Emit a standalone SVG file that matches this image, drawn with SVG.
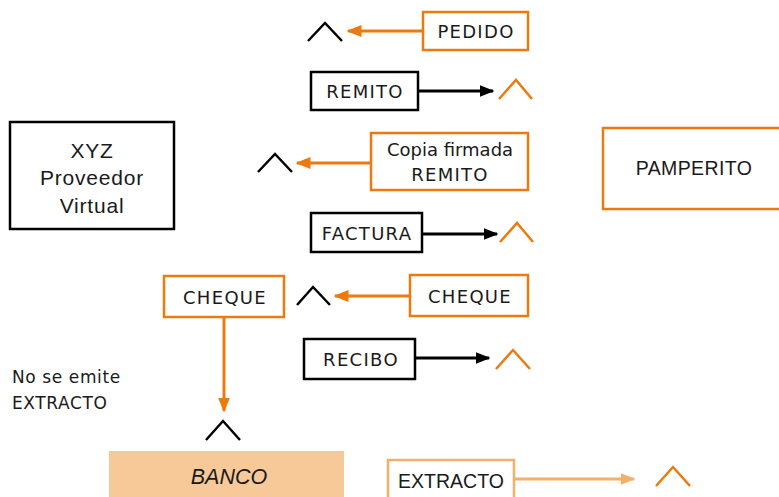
<svg xmlns="http://www.w3.org/2000/svg" width="779" height="497" viewBox="0 0 779 497">
<defs>
<style>
.ob{fill:#fff;stroke:#ec7a0c;stroke-width:2.5}
.bb{fill:#fff;stroke:#000;stroke-width:2.5}
.t{font-family:"DejaVu Sans",sans-serif;font-size:18px;fill:#1a1a1a;text-anchor:middle;letter-spacing:1.3px}
.a{font-family:"Liberation Sans",Arial,sans-serif;fill:#1a1a1a;text-anchor:middle}
.ol{stroke:#ec7a0c;stroke-width:3;fill:none}
.bl{stroke:#000;stroke-width:3;fill:none}
.lo{stroke:#f4b06a;stroke-width:3;fill:none}
.cb{stroke:#000;stroke-width:2.5;fill:none}
.co{stroke:#ec7a0c;stroke-width:2.5;fill:none}
</style>
<marker id="mo" viewBox="0 0 10 10" refX="9" refY="5" markerWidth="5" markerHeight="5" orient="auto" markerUnits="strokeWidth"><path d="M0,1 L10,5 L0,9 z" fill="#ec7a0c"/></marker>
<marker id="mb" viewBox="0 0 10 10" refX="9" refY="5" markerWidth="5" markerHeight="5" orient="auto" markerUnits="strokeWidth"><path d="M0,1 L10,5 L0,9 z" fill="#000"/></marker>
<marker id="ml" viewBox="0 0 10 10" refX="9" refY="5" markerWidth="5" markerHeight="5" orient="auto" markerUnits="strokeWidth"><path d="M0,1 L10,5 L0,9 z" fill="#f4b06a"/></marker>
</defs>
<rect width="779" height="497" fill="#fff"/>

<g id="connectors">
<line class="ol" x1="423" y1="31" x2="348" y2="31" marker-end="url(#mo)"/>
<line class="bl" x1="418" y1="91" x2="493" y2="91" marker-end="url(#mb)"/>
<line class="ol" x1="371" y1="163" x2="297" y2="163" marker-end="url(#mo)"/>
<line class="bl" x1="422" y1="234" x2="497" y2="234" marker-end="url(#mb)"/>
<line class="ol" x1="410" y1="296" x2="335" y2="296" marker-end="url(#mo)"/>
<line class="ol" x1="224" y1="317" x2="224" y2="411" marker-end="url(#mo)"/>
<line class="bl" x1="415" y1="358" x2="489" y2="358" marker-end="url(#mb)"/>
<line class="lo" x1="514" y1="479" x2="634" y2="479" marker-end="url(#ml)"/>
</g>

<g id="carets">
<polyline class="cb" points="308,41 325,23 342,41"/>
<polyline class="co" points="499,99 516,80 532,99"/>
<polyline class="cb" points="258,172 275,154 292,172"/>
<polyline class="co" points="500,242 517,223 533,242"/>
<polyline class="cb" points="297,305 313,287 330,305"/>
<polyline class="co" points="496,369 513,350 530,369"/>
<polyline class="cb" points="206,440 223,421 240,440"/>
<polyline class="co" points="656,486 673,467 690,486"/>
</g>

<g id="xyz">
<rect class="bb" x="10" y="122" width="164" height="107"/>
<text class="a" font-size="21" letter-spacing="0.8"><tspan x="92" y="158">XYZ</tspan><tspan x="92" y="185">Proveedor</tspan><tspan x="92" y="213">Virtual</tspan></text>
</g>

<g id="pedido">
<rect class="ob" x="423" y="12" width="105" height="38"/>
<text class="t" x="476" y="38">PEDIDO</text>
</g>

<g id="remito">
<rect class="bb" x="311" y="72" width="107" height="38"/>
<text class="t" x="365" y="98">REMITO</text>
</g>

<g id="copia">
<rect class="ob" x="371" y="133" width="157" height="57"/>
<text class="t"><tspan x="450" y="156" style="letter-spacing:0">Copia firmada</tspan><tspan x="450" y="181">REMITO</tspan></text>
</g>

<g id="pamperito">
<rect class="ob" x="603" y="128" width="180" height="81"/>
<text class="a" font-size="19.5" letter-spacing="0.4" x="694" y="175">PAMPERITO</text>
</g>

<g id="factura">
<rect class="bb" x="311" y="213" width="111" height="39"/>
<text class="t" x="367" y="240">FACTURA</text>
</g>

<g id="cheque-left">
<rect class="ob" x="164" y="276" width="120" height="41"/>
<text class="t" x="225" y="304">CHEQUE</text>
</g>

<g id="cheque-right">
<rect class="ob" x="410" y="275" width="118" height="41"/>
<text class="t" x="470" y="303">CHEQUE</text>
</g>

<g id="recibo">
<rect class="bb" x="304" y="339" width="111" height="40"/>
<text class="t" x="361" y="366">RECIBO</text>
</g>

<g id="nota">
<text font-family="DejaVu Sans, sans-serif" font-size="17" letter-spacing="0.6" fill="#1a1a1a"><tspan x="12" y="383">No se emite</tspan><tspan x="12" y="409">EXTRACTO</tspan></text>
</g>

<g id="banco">
<rect x="109" y="451" width="235" height="50" fill="#f7c999"/>
<text class="a" font-size="21.5" font-style="italic" x="229" y="484">BANCO</text>
</g>

<g id="extracto">
<rect x="388" y="460" width="126" height="40" fill="#fff" stroke="#f4b06a" stroke-width="2.5"/>
<text class="a" font-size="19.5" x="451" y="488">EXTRACTO</text>
</g>
</svg>
